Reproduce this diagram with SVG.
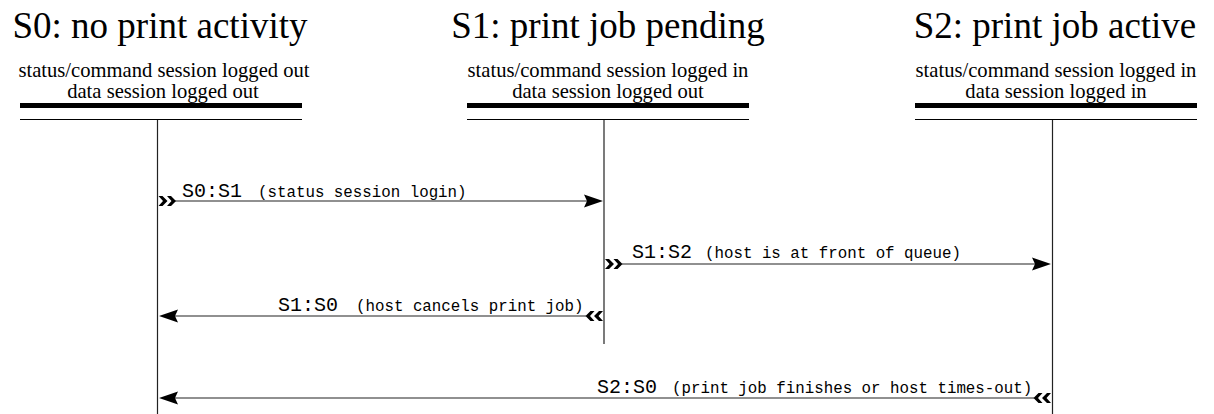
<svg xmlns="http://www.w3.org/2000/svg" width="1214" height="414" viewBox="0 0 1214 414">
<style>
.title{font-family:"Liberation Serif","Times New Roman",Times,"DejaVu Serif",serif;font-size:37px;fill:#000;text-anchor:middle}
.sub{font-family:"Liberation Serif","Times New Roman",Times,"DejaVu Serif",serif;font-size:20.6px;fill:#000;text-anchor:middle}
.thick{stroke:#000;stroke-width:5}
.thin{stroke:#000;stroke-width:1}
.life{stroke:#222;stroke-width:1.2}
.msg{stroke:#222;stroke-width:1.2;fill:none}
.lbl{font-family:"Liberation Mono","Courier New",monospace;font-size:20px;fill:#000}
.note{font-family:"Liberation Mono","Courier New",monospace;font-size:15.8px;fill:#000}
.head{fill:#000}
</style>
<defs>
<path id="ahR" d="M-19,-6.5 L0,0 L-19,6.5 L-16,0 z"/>
<path id="ahL" d="M19,-6.5 L0,0 L19,6.5 L16,0 z"/>
<path id="chR" d="M0,-5 L4,-5 L9,0 L4,5 L0,5 L4.5,0 z M8.5,-5 L12.5,-5 L17.5,0 L12.5,5 L8.5,5 L13,0 z"/>
<path id="chL" d="M0,-5 L-4,-5 L-9,0 L-4,5 L0,5 L-4.5,0 z M-8.5,-5 L-12.5,-5 L-17.5,0 L-12.5,5 L-8.5,5 L-13,0 z"/>
</defs>
<g id="S0">
<text class="title" x="160" y="38">S0: no print activity</text>
<text class="sub" x="164" y="77">status/command session logged out</text>
<text class="sub" x="163" y="98">data session logged out</text>
<line class="thick" x1="20" y1="105.5" x2="302" y2="105.5"/>
<line class="thin" x1="20" y1="119.5" x2="302" y2="119.5"/>
<line class="life" x1="157.5" y1="120" x2="157.5" y2="414"/>
</g>
<g id="S1">
<text class="title" x="608" y="38">S1: print job pending</text>
<text class="sub" x="608" y="77">status/command session logged in</text>
<text class="sub" x="608" y="98">data session logged out</text>
<line class="thick" x1="467" y1="105.5" x2="749" y2="105.5"/>
<line class="thin" x1="467" y1="119.5" x2="749" y2="119.5"/>
<line class="life" x1="604" y1="120" x2="604" y2="344"/>
</g>
<g id="S2">
<text class="title" x="1055" y="38">S2: print job active</text>
<text class="sub" x="1056" y="77">status/command session logged in</text>
<text class="sub" x="1056" y="98">data session logged in</text>
<line class="thick" x1="915" y1="105.5" x2="1197" y2="105.5"/>
<line class="thin" x1="915" y1="119.5" x2="1197" y2="119.5"/>
<line class="life" x1="1052.5" y1="120" x2="1052.5" y2="414"/>
</g>
<g id="connectors">
<g id="m1">
<line class="msg" x1="175" y1="201" x2="590" y2="201"/>
<use href="#chR" class="head" x="158.5" y="201"/>
<use href="#ahR" class="head" x="603" y="201"/>
<text class="lbl" x="182" y="197">S0:S1</text>
<text class="note" x="258" y="197">(status session login)</text>
</g>
<g id="m2">
<line class="msg" x1="622" y1="264" x2="1038" y2="264"/>
<use href="#chR" class="head" x="605" y="264"/>
<use href="#ahR" class="head" x="1051" y="264"/>
<text class="lbl" x="632" y="258">S1:S2</text>
<text class="note" x="705" y="258">(host is at front of queue)</text>
</g>
<g id="m3">
<line class="msg" x1="172" y1="316" x2="586" y2="316"/>
<use href="#chL" class="head" x="603" y="316"/>
<use href="#ahL" class="head" x="159" y="316"/>
<text class="lbl" x="278" y="311">S1:S0</text>
<text class="note" x="356" y="311">(host cancels print job)</text>
</g>
<g id="m4">
<line class="msg" x1="172" y1="398" x2="1034" y2="398"/>
<use href="#chL" class="head" x="1051" y="398"/>
<use href="#ahL" class="head" x="159" y="398"/>
<text class="lbl" x="597" y="393">S2:S0</text>
<text class="note" x="672" y="393">(print job finishes or host times-out)</text>
</g>
</g>
</svg>
